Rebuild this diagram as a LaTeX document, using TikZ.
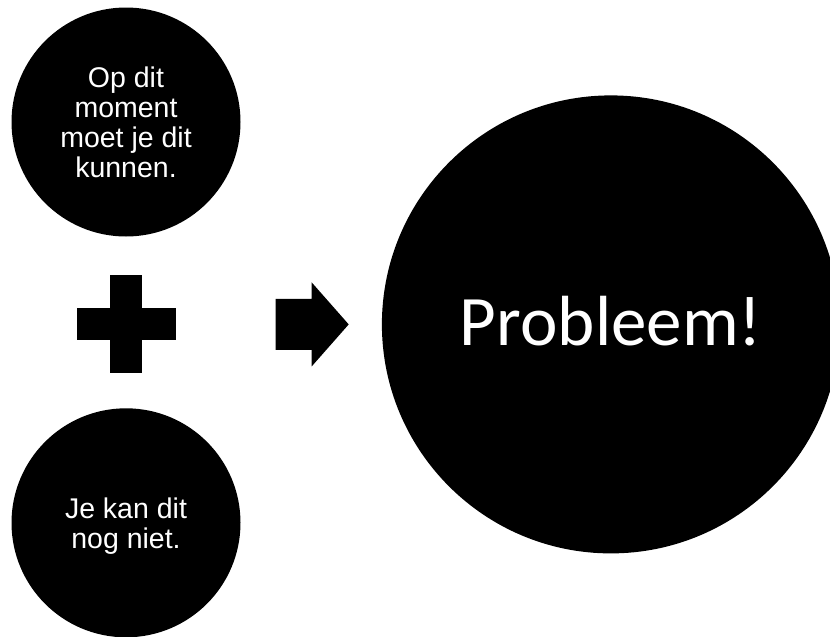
\documentclass[tikz,border=0pt]{standalone}
\usepackage{fontspec}
\setmainfont{Liberation Sans}
\newfontfamily\probfont{Carlito}
\usetikzlibrary{positioning}

\begin{document}
\begin{tikzpicture}[x=1pt, y=-1pt,
	dot/.style={circle, fill=black, text=white, inner sep=0pt, minimum size=229pt, align=center, font=\fontsize{28.5}{30}\selectfont},
	bar/.style={rectangle, fill=black, inner sep=0pt}]
	\path[use as bounding box, clip] (0,0) rectangle (830,637);

	\node[dot] (moment) at (126,122) {Op dit\\moment\\moet je dit\\kunnen.};
	\node[bar, minimum width=32pt, minimum height=98pt, below=38.5pt of moment] (plus) {};
	\node[bar, minimum width=99pt, minimum height=32pt] (plus-h) at (plus) {};
	\node[dot, text depth=0pt, below=34.5pt of plus] (niet) {Je kan dit\\nog niet.};

	\coordinate[right=100pt of plus-h] (arr);
	\fill (arr) ++(0,-25.5) -- ++(36,0) -- ++(0,-16.5) -- ++(37,42) -- ++(-37,42) -- ++(0,-16.5) -- ++(-36,0) -- cycle;

	\node[dot, minimum size=458pt, text height=42pt, text depth=0pt, font=\probfont\fontsize{71}{85}\selectfont, right=106pt of arr] (probleem) {Probleem!};
\end{tikzpicture}
\end{document}
